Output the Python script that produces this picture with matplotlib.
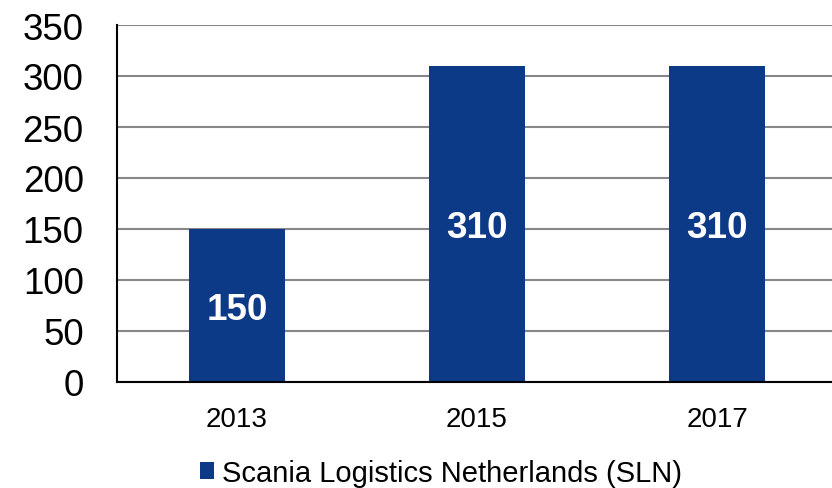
import matplotlib
matplotlib.use("Agg")
import matplotlib.pyplot as plt
from matplotlib.patches import Patch

years = ["2013", "2015", "2017"]
values = [150, 310, 310]
series_name = "Scania Logistics Netherlands (SLN)"
yticks = [0, 50, 100, 150, 200, 250, 300, 350]

bar_color = "#0D3A87"

plt.rcParams['font.family'] = ['Liberation Sans', 'DejaVu Sans']

fig = plt.figure(figsize=(8.32, 4.89), dpi=100)
ax = fig.add_axes([117 / 832, 1 - 383 / 489, 720 / 832, 357 / 489])

x = range(len(years))
bars = ax.bar(x, values, width=0.4, color=bar_color, zorder=3)

for b, v in zip(bars, values):
    ax.text(b.get_x() + b.get_width() / 2, v / 2, str(v), ha="center", va="center_baseline",
            color="white", fontsize=26.5, fontweight="bold", zorder=4)

ax.set_xlim(-0.5, 2.5)
ax.set_ylim(0, 350)
ax.set_yticks(yticks)
ax.set_xticks(list(x))
ax.set_xticklabels(years, fontsize=20)
ax.tick_params(axis="y", labelsize=26.5, length=0, pad=24)
ax.tick_params(axis="x", length=0, pad=17)

ax.grid(axis="y", color="#878787", linewidth=1.5, zorder=0)
for s in ["top", "right"]:
    ax.spines[s].set_visible(False)
ax.spines["left"].set_color("black")
ax.spines["left"].set_linewidth(1.5)
ax.spines["bottom"].set_color("black")
ax.spines["bottom"].set_linewidth(1.5)
ax.spines["bottom"].set_zorder(5)

handle = Patch(facecolor=bar_color, label=series_name)
fig.legend(handles=[handle], loc="center", bbox_to_anchor=(441 / 832, 1 - 474 / 489),
           frameon=False, fontsize=21, handlelength=0.5, handleheight=0.5,
           handletextpad=0.28, borderaxespad=0, borderpad=0)

fig.savefig("out.png", dpi=100)
